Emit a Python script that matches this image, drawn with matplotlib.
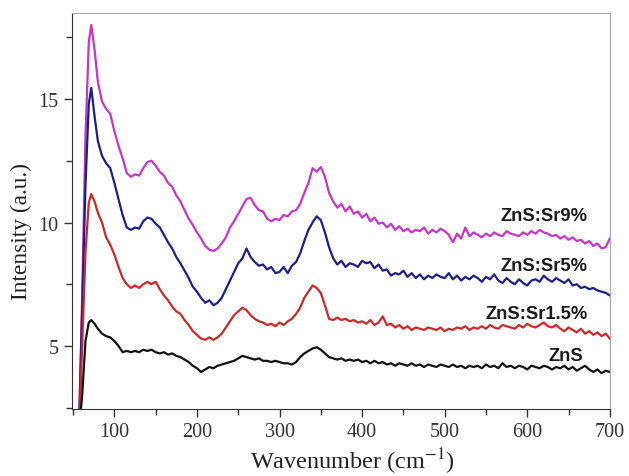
import matplotlib
matplotlib.use('Agg')
import matplotlib.pyplot as plt
from matplotlib.ticker import MultipleLocator
import numpy as np

plt.rcParams['font.family'] = ['Liberation Serif', 'DejaVu Serif']
plt.rcParams['mathtext.fontset'] = 'stix'

# wavenumber grid (cm-1): dense head for the steep edge, then every 5
wn = np.concatenate([[57, 61, 65, 69, 72, 76, 80], np.arange(85, 705, 5)])

sr9 = [1.5, 7.0, 13.5, 17.3, 18.0, 17.0, 15.7,
       14.9, 14.6, 14.4, 13.7, 13.1, 12.6, 12.0, 11.85, 11.95, 11.9,
       12.2, 12.45, 12.5, 12.3, 12.05, 11.9, 11.6, 11.45, 11.1, 10.85,
       10.5, 10.15, 9.9, 9.6, 9.35, 9.05, 8.9, 8.85, 8.95, 9.15,
       9.4, 9.8, 10.05, 10.35, 10.65, 10.95, 11.0, 10.7, 10.5, 10.45,
       10.15, 10.05, 10.15, 10.1, 10.3, 10.25, 10.45, 10.5, 10.75, 11.2,
       11.6, 12.2, 12.05, 12.25, 11.85, 11.2, 10.85, 10.6, 10.75, 10.45,
       10.65, 10.35, 10.45, 10.2, 10.35, 10.05, 10.2, 9.95, 10.0, 9.8,
       9.95, 9.7, 9.85, 9.65, 9.75, 9.6, 9.7, 9.65, 9.8, 9.55,
       9.7, 9.6, 9.75, 9.65, 9.5, 9.2, 9.55, 9.35, 9.8, 9.45,
       9.6, 9.5, 9.4, 9.55, 9.45, 9.6, 9.5, 9.45, 9.65, 9.55,
       9.5, 9.45, 9.6, 9.5, 9.65, 9.55, 9.7, 9.6, 9.55, 9.45,
       9.5, 9.35, 9.45, 9.3, 9.4, 9.25, 9.3, 9.15, 9.25, 9.05,
       9.15, 8.95, 9.0, 9.35]

sr5 = [1.5, 6.5, 11.5, 14.8, 15.45, 14.3, 13.3,
       12.7, 12.4, 12.2, 11.6, 10.95, 10.3, 9.8, 9.7, 9.8, 9.75,
       10.05, 10.2, 10.15, 9.95, 9.8, 9.5, 9.2, 8.95, 8.6, 8.35,
       8.05, 7.75, 7.4, 7.2, 6.95, 6.75, 6.85, 6.65, 6.75, 6.95,
       7.3, 7.65, 8.0, 8.35, 8.55, 8.95, 8.6, 8.4, 8.25, 8.3,
       8.1, 8.2, 7.95, 8.0, 8.2, 7.95, 8.25, 8.4, 8.75, 9.25,
       9.7, 10.0, 10.25, 10.1, 9.6, 9.0, 8.55, 8.3, 8.45, 8.2,
       8.35, 8.3, 8.2, 8.45, 8.35, 8.4, 8.15, 8.3, 8.05, 8.1,
       7.85, 7.95, 7.9, 8.05, 7.8, 7.95, 7.75, 7.9, 7.7, 7.85,
       7.75, 7.9, 7.8, 7.75, 7.95, 7.7, 7.85, 7.65, 7.8, 7.7,
       7.85, 7.75, 7.6, 7.8, 7.7, 7.9, 7.65, 7.55, 7.75, 7.6,
       7.5, 7.7, 7.55, 7.45, 7.65, 7.7, 7.6, 7.85, 7.7, 7.6,
       7.75, 7.65, 7.55, 7.7, 7.45, 7.5, 7.35, 7.4, 7.3, 7.35,
       7.25, 7.2, 7.15, 7.05]

sr15 = [1.5, 5.0, 8.8, 10.8, 11.15, 10.85, 10.4,
        10.0, 9.4, 9.1, 8.7, 8.2, 7.75, 7.5, 7.35, 7.45, 7.35,
        7.5, 7.6, 7.5, 7.6, 7.3, 7.05, 6.85, 6.6, 6.4, 6.3,
        6.05, 5.85, 5.6, 5.45, 5.3, 5.25, 5.35, 5.25, 5.35, 5.5,
        5.75, 6.0, 6.25, 6.4, 6.55, 6.45, 6.25, 6.1, 6.0, 5.95,
        5.85, 5.9, 5.8, 5.95, 5.85, 6.0, 6.1, 6.3, 6.55, 6.95,
        7.2, 7.45, 7.35, 7.15, 6.65, 6.1, 6.05, 6.15, 6.05, 6.1,
        6.0, 6.05, 5.95, 6.0, 5.9, 6.05, 5.85, 5.95, 6.2, 5.85,
        5.9, 5.75, 5.85, 5.7, 5.8, 5.65, 5.75, 5.7, 5.65, 5.75,
        5.7, 5.65, 5.75, 5.6, 5.7, 5.65, 5.75, 5.7, 5.8, 5.65,
        5.75, 5.7, 5.8, 5.7, 5.85, 5.75, 5.7, 5.85, 5.8, 5.75,
        5.7, 5.85, 5.75, 5.9, 5.8, 5.75, 5.85, 5.95, 5.8, 5.75,
        5.85, 5.7, 5.6, 5.75, 5.65, 5.55, 5.7, 5.5, 5.6, 5.45,
        5.55, 5.4, 5.5, 5.3]

zns = [1.5, 3.0, 5.2, 5.95, 6.05, 5.9, 5.7,
       5.5, 5.4, 5.35, 5.2, 5.0, 4.75, 4.8, 4.75, 4.8, 4.75,
       4.85, 4.8, 4.85, 4.75, 4.7, 4.75, 4.65, 4.7, 4.6, 4.55,
       4.45, 4.35, 4.2, 4.1, 3.95, 4.05, 4.15, 4.1, 4.2, 4.25,
       4.3, 4.35, 4.4, 4.5, 4.6, 4.55, 4.5, 4.45, 4.5, 4.4,
       4.4, 4.35, 4.4, 4.35, 4.3, 4.3, 4.25, 4.35, 4.55, 4.7,
       4.8, 4.9, 4.95, 4.85, 4.7, 4.55, 4.5, 4.45, 4.5, 4.4,
       4.45, 4.4, 4.45, 4.35, 4.4, 4.3, 4.4, 4.3, 4.35, 4.25,
       4.3, 4.2, 4.3, 4.25, 4.2, 4.3, 4.2, 4.25, 4.15, 4.25,
       4.2, 4.15, 4.25, 4.2, 4.15, 4.25, 4.15, 4.2, 4.1, 4.2,
       4.15, 4.2, 4.1, 4.25, 4.15, 4.2, 4.1, 4.3, 4.15, 4.2,
       4.1, 4.2, 4.15, 4.05, 4.2, 4.15, 4.1, 4.2, 4.15, 4.05,
       4.15, 4.1, 4.2, 4.05, 4.15, 4.0, 4.1, 4.2, 4.05, 3.95,
       4.05, 3.9, 4.0, 3.95]

names = ['ZnS:Sr9%', 'ZnS:Sr5%', 'ZnS:Sr1.5%', 'ZnS']
colors = ['#c535c8', '#1e1e86', '#c82a2a', '#111111']
label_x = [673, 673, 673, 668]
label_y = [10.3, 8.25, 6.3, 4.6]

fig = plt.figure(figsize=(6.29, 4.77), dpi=100)
ax = fig.add_axes([0.1145, 0.1405, 0.855, 0.830])

for ys, c in zip([sr9, sr5, sr15, zns], colors):
    ax.plot(wn, ys, color=c, lw=1.6)

for name, lx, ly in zip(names, label_x, label_y):
    ax.text(lx, ly, name, ha='right', va='center', fontsize=13.2,
            fontweight='bold', family=['Liberation Sans', 'DejaVu Sans'],
            color='#1a1a1a')

ax.set_xlim(48.7, 700)
ax.set_ylim(2.45, 18.48)
ax.xaxis.set_major_locator(MultipleLocator(100))
ax.xaxis.set_minor_locator(MultipleLocator(50))
ax.yaxis.set_major_locator(MultipleLocator(5))
ax.yaxis.set_minor_locator(MultipleLocator(2.5))
ax.tick_params(which='both', direction='out', top=False, right=False,
               labelsize=14.5, labelcolor='#333333', color='#333333')
ax.tick_params(which='major', length=6, width=1)
ax.tick_params(which='minor', length=4, width=1)

for s in ['top', 'right']:
    ax.spines[s].set_color('#aaaaaa')
for s in ['left', 'bottom']:
    ax.spines[s].set_color('#333333')

ax.set_xlabel(r'Wavenumber (cm$^{-1}$)', fontsize=17.5, color='#222222')
ax.xaxis.set_label_coords(0.522, -0.093)
ax.set_ylabel('Intensity (a.u.)', fontsize=16.8, color='#222222')
ax.yaxis.set_label_coords(-0.074, 0.452)

fig.savefig('out.png', dpi=100)
